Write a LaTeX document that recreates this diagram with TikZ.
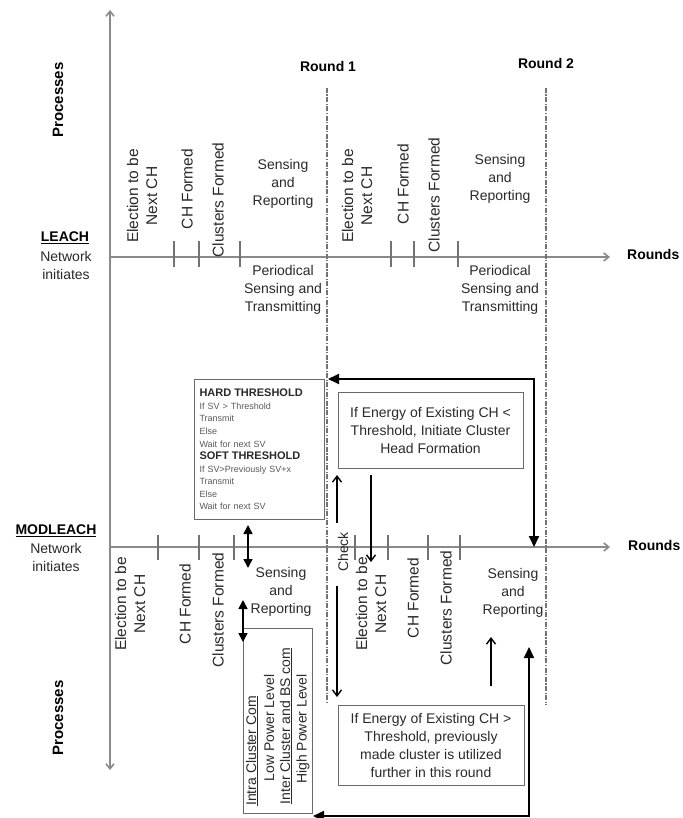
\documentclass[tikz,border=0pt]{standalone}
\usepackage{fontspec}
\setmainfont{Liberation Sans}
\usetikzlibrary{arrows.meta}
\definecolor{axisgray}{HTML}{8A8A8A}
\definecolor{txt}{HTML}{2A2A2A}
\definecolor{boxgray}{HTML}{6A6A6A}
\definecolor{smalltxt}{HTML}{5A5A5A}
\begin{document}
\begin{tikzpicture}[x=1pt,y=-1pt,
  lab/.style={font=\fontsize{14}{18}\selectfont, text=txt, inner sep=0pt, align=center},
  rlab/.style={font=\fontsize{15.5}{19}\selectfont, text=txt, inner sep=0pt, align=center, rotate=90},
  blab/.style={font=\fontsize{14}{18}\selectfont\bfseries, text=black, inner sep=0pt},
  axis/.style={draw=axisgray, line width=1.6pt, -{Straight Barb[length=5pt,width=8pt]}},
  dblaxis/.style={draw=axisgray, line width=1.6pt, {Straight Barb[length=5pt,width=8pt]}-{Straight Barb[length=5pt,width=8pt]}},
  tickmark/.style={draw=black!55, line width=1.2pt},
  rline/.style={draw=black!55, line width=2.2pt, dash pattern=on 5pt off 1.5pt on 1.2pt off 1.5pt},
  box/.style={draw=boxgray, line width=1pt},
  thinarrow/.style={draw=black, line width=1.4pt, -{Straight Barb[length=6pt,width=9pt]}},
  dbl/.style={draw=black, line width=1.6pt, {Triangle[length=9pt,width=9pt]}-{Triangle[length=9pt,width=9pt]}},
  fat/.style={draw=black, line width=2pt, {Triangle[length=11pt,width=10pt]}-{Triangle[length=11pt,width=10pt]}},
]
\useasboundingbox (0,0) rectangle (682,818);
\fill[white] (0,0) rectangle (682,818);

% ---------- coordinates ----------
\coordinate (vtop) at (110,10);
\coordinate (vbot) at (110,770);
\coordinate (l0) at (110,257);
\coordinate (l1) at (610,257);
\coordinate (m0) at (110,547);
\coordinate (m1) at (610,547);

% axes
\draw[dblaxis] (vtop) -- (vbot);
\draw[axis] (l0) -- (l1);
\draw[axis] (m0) -- (m1);

% LEACH ticks
\foreach \x in {174,199,240,391,414,458}
  \draw[tickmark] (\x,241) -- (\x,267);
% MODLEACH ticks
\foreach \x in {158,199,234,355,388,428,460}
  \draw[tickmark] (\x,535) -- (\x,560);

% round lines
\coordinate (r1t) at (327,88);
\coordinate (r1b) at (327,703);
\coordinate (r2t) at (546,88);
\coordinate (r2b) at (546,705);
\draw[rline] (r1t) -- (r1b);
\draw[rline] (r2t) -- (r2b);

% headers
\node[blab] (round1) at (328,66) {Round 1};
\node[blab] (round2) at (546,63) {Round 2};
\node[blab, anchor=west] (rounds1) at (627,254) {Rounds};
\node[blab, anchor=west] (rounds2) at (628,545) {Rounds};
\node[blab, font=\fontsize{15}{18}\selectfont\bfseries, rotate=90] (proc1) at (58,100) {Processes};
\node[blab, font=\fontsize{15}{18}\selectfont\bfseries, rotate=90] (proc2) at (58,718) {Processes};

\node[blab] (leach) at (65,238) {\underline{LEACH}};
\node[lab] (leachni) at (66,265) {Network\\initiates};
\node[blab] (modleach) at (56,531) {\underline{MODLEACH}};
\node[lab] (modni) at (56,557) {Network\\initiates};

% LEACH round 1
\node[rlab] (el1) at (142,196) {Election to be\\Next CH};
\node[rlab] (ch1) at (187,189) {CH Formed};
\node[rlab] (cl1) at (218,200) {Clusters Formed};
\node[lab] (sr1) at (283,184) {Sensing\\and\\Reporting};
\node[lab] (pst1) at (283,290) {Periodical\\Sensing and\\Transmitting};
% LEACH round 2
\node[rlab] (el2) at (357,196) {Election to be\\Next CH};
\node[rlab] (ch2) at (403,184) {CH Formed};
\node[rlab] (cl2) at (434,195) {Clusters Formed};
\node[lab] (sr2) at (500,179) {Sensing\\and\\Reporting};
\node[lab] (pst2) at (500,290) {Periodical\\Sensing and\\Transmitting};

% MODLEACH labels
\node[rlab] (el3) at (130,604) {Election to be\\Next CH};
\node[rlab] (ch3) at (185,604) {CH Formed};
\node[rlab] (cl3) at (218,610) {Clusters Formed};
\node[lab] (sr3) at (281,592) {Sensing\\and\\Reporting};
\node[rlab, font=\fontsize{14}{18}\selectfont] (check) at (343,552) {Check};
\node[rlab] (el4) at (371,604) {Election to be\\Next CH};
\node[rlab] (ch4) at (413,598) {CH Formed};
\node[rlab] (cl4) at (446,608) {Clusters Formed};
\node[lab] (sr4) at (513,593) {Sensing\\and\\Reporting};

% threshold box
\node[box, anchor=north west, minimum width=130pt, minimum height=140pt,
      text width=120pt, inner xsep=5pt, inner ysep=0pt, align=left, text=smalltxt,
      font=\fontsize{9}{12.6}\selectfont] (thr) at (194,379)
  {{\fontsize{11}{12.6}\selectfont\bfseries\color{txt} HARD THRESHOLD}\\
   If SV > Threshold\\ Transmit\\ Else\\ Wait for next SV\\
   {\fontsize{11}{12.6}\selectfont\bfseries\color{txt} SOFT THRESHOLD}\\
   If SV>Previously SV+x\\ Transmit\\ Else\\ Wait for next SV};

% energy boxes
\node[box, lab, minimum width=185pt, minimum height=76pt] (e1) at (430.5,430)
  {If Energy of Existing CH <\\Threshold, Initiate Cluster\\Head Formation};
\node[box, lab, minimum width=186pt, minimum height=80pt] (e2) at (431,745)
  {If Energy of Existing CH >\\Threshold, previously\\made cluster is utilized\\further in this round};

% intra/inter box
\node[box, minimum width=69pt, minimum height=185pt, inner sep=0pt] (ib) at (277.5,720.5) {};
\node[rlab, font=\fontsize{14}{17}\selectfont] (ib1) at (252,751) {\underline{Intra Cluster Com}};
\node[rlab, font=\fontsize{14}{17}\selectfont] (ib2) at (269,728) {Low Power Level};
\node[rlab, font=\fontsize{14}{17}\selectfont] (ib3) at (286,726) {\underline{Inter Cluster and BS com}};
\node[rlab, font=\fontsize{14}{17}\selectfont] (ib4) at (303,729) {High Power Level};

% arrows
\coordinate (d1a) at (248,525);
\coordinate (d1b) at (248,568);
\draw[dbl] (d1a) -- (d1b);
\coordinate (d2a) at (243,600);
\coordinate (d2b) at (243,642);
\draw[dbl] (d2a) -- (d2b);

\coordinate (cka) at (337,523);
\coordinate (ckb) at (337,475);
\draw[thinarrow] (cka) -- (ckb);
\coordinate (cdn1) at (337,586);
\coordinate (cdn2) at (337,697);
\draw[thinarrow] (cdn1) -- (cdn2);
\coordinate (ea) at (371,475);
\coordinate (eb) at (371,562);
\draw[thinarrow] (ea) -- (eb);
\coordinate (ua) at (491,686);
\coordinate (ub) at (491,637);
\draw[thinarrow] (ua) -- (ub);

\coordinate (f1a) at (328,379);
\coordinate (f1b) at (534,547);
\draw[fat] (f1a) -| (f1b);
\coordinate (f2a) at (529,647);
\coordinate (f2b) at (313,816);
\draw[fat] (f2a) |- (f2b);
\end{tikzpicture}
\end{document}
